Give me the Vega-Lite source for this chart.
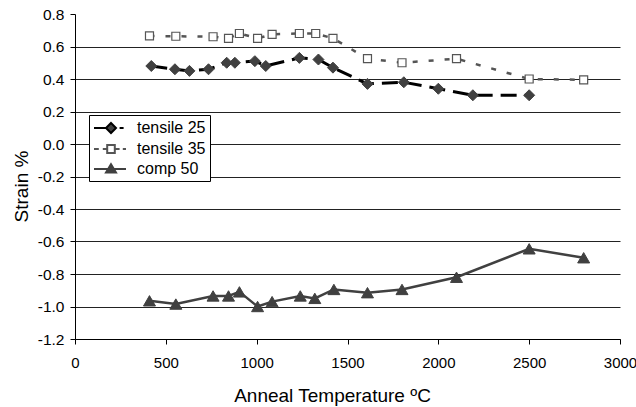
{
  "$schema": "https://vega.github.io/schema/vega-lite/v6.json",
  "width": 545,
  "height": 325,
  "autosize": {"type": "none"},
  "padding": {"left": 75, "top": 14, "right": 16, "bottom": 68},
  "config": {
    "font": "Liberation Sans",
    "view": {"stroke": null},
    "locale": {"number": {"decimal": ".", "thousands": ",", "grouping": [3], "currency": ["$", ""], "minus": "-"}}
  },
  "data": {
    "values": [
      {"series": "tensile 25", "temp": 420, "strain": 0.48},
      {"series": "tensile 25", "temp": 550, "strain": 0.46},
      {"series": "tensile 25", "temp": 630, "strain": 0.45},
      {"series": "tensile 25", "temp": 735, "strain": 0.46},
      {"series": "tensile 25", "temp": 835, "strain": 0.50},
      {"series": "tensile 25", "temp": 880, "strain": 0.50},
      {"series": "tensile 25", "temp": 990, "strain": 0.51},
      {"series": "tensile 25", "temp": 1050, "strain": 0.48},
      {"series": "tensile 25", "temp": 1235, "strain": 0.53},
      {"series": "tensile 25", "temp": 1340, "strain": 0.52},
      {"series": "tensile 25", "temp": 1420, "strain": 0.47},
      {"series": "tensile 25", "temp": 1610, "strain": 0.37},
      {"series": "tensile 25", "temp": 1810, "strain": 0.38},
      {"series": "tensile 25", "temp": 2000, "strain": 0.34},
      {"series": "tensile 25", "temp": 2190, "strain": 0.30},
      {"series": "tensile 25", "temp": 2500, "strain": 0.30},
      {"series": "tensile 35", "temp": 410, "strain": 0.665},
      {"series": "tensile 35", "temp": 555, "strain": 0.663},
      {"series": "tensile 35", "temp": 760, "strain": 0.66},
      {"series": "tensile 35", "temp": 845, "strain": 0.65},
      {"series": "tensile 35", "temp": 905, "strain": 0.68},
      {"series": "tensile 35", "temp": 1005, "strain": 0.65},
      {"series": "tensile 35", "temp": 1085, "strain": 0.675},
      {"series": "tensile 35", "temp": 1235, "strain": 0.68},
      {"series": "tensile 35", "temp": 1325, "strain": 0.68},
      {"series": "tensile 35", "temp": 1420, "strain": 0.65},
      {"series": "tensile 35", "temp": 1610, "strain": 0.525},
      {"series": "tensile 35", "temp": 1800, "strain": 0.50},
      {"series": "tensile 35", "temp": 2100, "strain": 0.525},
      {"series": "tensile 35", "temp": 2500, "strain": 0.40},
      {"series": "tensile 35", "temp": 2800, "strain": 0.395},
      {"series": "comp 50", "temp": 410, "strain": -0.965},
      {"series": "comp 50", "temp": 555, "strain": -0.985},
      {"series": "comp 50", "temp": 760, "strain": -0.935},
      {"series": "comp 50", "temp": 845, "strain": -0.935},
      {"series": "comp 50", "temp": 905, "strain": -0.91},
      {"series": "comp 50", "temp": 1005, "strain": -1.0},
      {"series": "comp 50", "temp": 1085, "strain": -0.97},
      {"series": "comp 50", "temp": 1240, "strain": -0.935},
      {"series": "comp 50", "temp": 1320, "strain": -0.95},
      {"series": "comp 50", "temp": 1425, "strain": -0.895},
      {"series": "comp 50", "temp": 1610, "strain": -0.915},
      {"series": "comp 50", "temp": 1800, "strain": -0.895},
      {"series": "comp 50", "temp": 2100, "strain": -0.82},
      {"series": "comp 50", "temp": 2500, "strain": -0.645},
      {"series": "comp 50", "temp": 2800, "strain": -0.70}
    ]
  },
  "encoding": {
    "x": {
      "field": "temp", "type": "quantitative",
      "scale": {"domain": [0, 3000], "nice": false},
      "axis": {
        "title": "Anneal Temperature ºC",
        "values": [0, 500, 1000, 1500, 2000, 2500, 3000],
        "format": "d",
        "grid": false,
        "domainColor": "black", "domainWidth": 1,
        "tickColor": "black", "tickSize": 5, "tickWidth": 1,
        "labelFontSize": 15, "labelColor": "black",
        "labelFlush": false, "labelOverlap": false,
        "labelBaseline": "alphabetic", "labelPadding": 23,
        "titleFontSize": 19, "titleFontWeight": "normal", "titleColor": "black",
        "titleX": 257, "titleY": 62, "titleBaseline": "alphabetic"
      }
    },
    "y": {
      "field": "strain", "type": "quantitative",
      "scale": {"domain": [-1.2, 0.8], "nice": false},
      "axis": {
        "title": "Strain %",
        "values": [-1.2, -1, -0.8, -0.6, -0.4, -0.2, 0, 0.2, 0.4, 0.6, 0.8],
        "format": ".1f",
        "grid": true, "gridColor": "#222", "gridWidth": 1,
        "gridOpacity": {"condition": {"test": "datum.value > 0.75", "value": 0}, "value": 1},
        "domainColor": "black", "domainWidth": 1,
        "tickColor": "black", "tickSize": 5, "tickWidth": 1,
        "labelFontSize": 15.5, "labelColor": "black", "labelPadding": 6,
        "labelFlush": false, "labelOverlap": false,
        "titleFontSize": 19, "titleFontWeight": "normal", "titleColor": "black",
        "titleX": -48, "titleY": 172, "titleBaseline": "alphabetic"
      }
    }
  },
  "layer": [
    {
      "transform": [{"filter": "datum.series === 'tensile 25'"}],
      "mark": {"type": "line", "stroke": "#000000", "strokeWidth": 3, "strokeDash": [16, 8], "strokeCap": "butt"}
    },
    {
      "transform": [{"filter": "datum.series === 'tensile 35'"}],
      "mark": {"type": "line", "stroke": "#555555", "strokeWidth": 2.5, "strokeDash": [5, 11], "strokeCap": "butt"}
    },
    {
      "transform": [{"filter": "datum.series === 'comp 50'"}],
      "mark": {"type": "line", "stroke": "#404040", "strokeWidth": 2.5}
    },
    {
      "transform": [{"filter": "datum.series === 'tensile 25'"}],
      "mark": {"type": "point", "shape": "diamond", "size": 121, "filled": true, "fill": "#404040", "stroke": "#404040", "strokeWidth": 1, "opacity": 1}
    },
    {
      "transform": [{"filter": "datum.series === 'tensile 35'"}],
      "mark": {"type": "point", "shape": "square", "size": 64, "filled": false, "fill": "#ffffff", "fillOpacity": 1, "stroke": "#555555", "strokeWidth": 1.2, "opacity": 1}
    },
    {
      "transform": [{"filter": "datum.series === 'comp 50'"}],
      "mark": {"type": "point", "shape": "triangle-up", "size": 144, "filled": true, "fill": "#404040", "stroke": "#404040", "strokeWidth": 1, "opacity": 1}
    },
    {
      "transform": [{"filter": "datum.temp < 0"}],
      "mark": {"type": "point", "filled": true, "opacity": 1, "strokeWidth": 2},
      "encoding": {
        "shape": {
          "field": "series", "type": "nominal",
          "scale": {
            "domain": ["tensile 25", "tensile 35", "comp 50"],
            "range": [
              "M-1,0L0.5,0M2.2,0L2.7,0M1.125,-0.625L1.75,0L1.125,0.625L0.5,0Z",
              "M-1,0L-0.4,0M0.1,0L0.6,0M1.7,0L2.2,0M2.6,0L3,0M0.65,-0.5L1.6,-0.5L1.6,0.5L0.65,0.5Z",
              "M-1,0L3,0M1.125,-0.6L1.75,0.45L0.5,0.45Z"
            ]
          },
          "legend": {
            "orient": "none", "legendX": 14, "legendY": 101, "title": null,
            "padding": 4, "rowPadding": 3, "symbolSize": 256, "labelOffset": 26,
            "labelFontSize": 16, "labelColor": "black", "symbolStrokeWidth": 2, "symbolOpacity": 1,
            "strokeColor": "black", "fillColor": "white", "cornerRadius": 0
          }
        },
        "fill": {
          "field": "series", "type": "nominal",
          "scale": {"domain": ["tensile 25", "tensile 35", "comp 50"], "range": ["#404040", "#ffffff", "#404040"]},
          "legend": {
            "orient": "none", "legendX": 14, "legendY": 101, "title": null,
            "padding": 4, "rowPadding": 3, "symbolSize": 256, "labelOffset": 26,
            "labelFontSize": 16, "labelColor": "black", "symbolStrokeWidth": 2, "symbolOpacity": 1,
            "strokeColor": "black", "fillColor": "white", "cornerRadius": 0
          }
        },
        "stroke": {
          "field": "series", "type": "nominal",
          "scale": {"domain": ["tensile 25", "tensile 35", "comp 50"], "range": ["#000000", "#555555", "#404040"]},
          "legend": {
            "orient": "none", "legendX": 14, "legendY": 101, "title": null,
            "padding": 4, "rowPadding": 3, "symbolSize": 256, "labelOffset": 26,
            "labelFontSize": 16, "labelColor": "black", "symbolStrokeWidth": 2, "symbolOpacity": 1,
            "strokeColor": "black", "fillColor": "white", "cornerRadius": 0
          }
        }
      }
    }
  ]
}
